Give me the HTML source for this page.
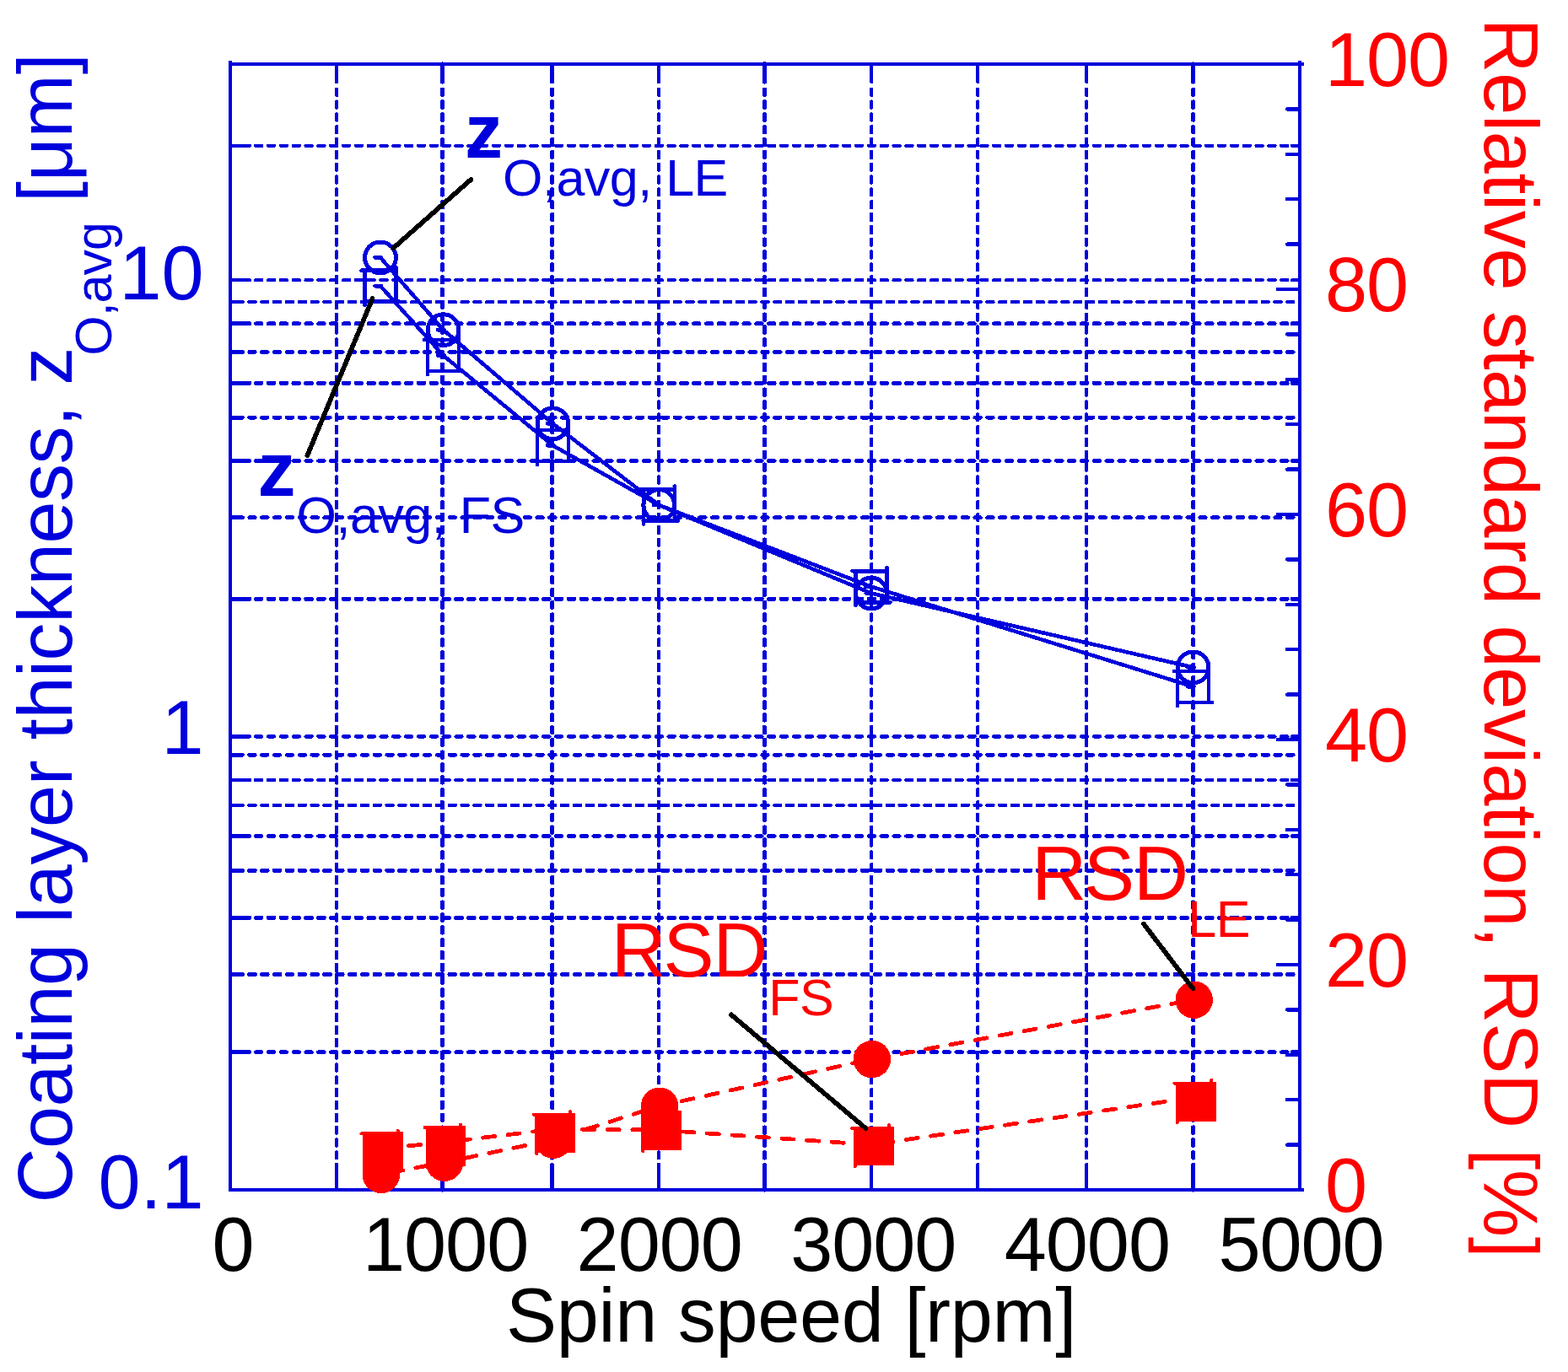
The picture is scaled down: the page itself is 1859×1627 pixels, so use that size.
<!DOCTYPE html>
<html lang="en">
<head>
<meta charset="utf-8">
<title>Coating layer thickness and relative standard deviation vs spin speed</title>
<style>
html,body{margin:0;padding:0;background:#ffffff;}
body{width:1859px;height:1627px;overflow:hidden;}
svg{display:block;}
text{font-family:'Liberation Sans', sans-serif;}
</style>
</head>
<body>
<svg width="1859" height="1627" viewBox="0 0 1859 1627" shape-rendering="crispEdges">
<rect x="0" y="0" width="1859" height="1627" fill="#ffffff"/>
<g id="grid">
<line x1="399.10" y1="105.65" x2="399.10" y2="1409.00" stroke="#0000dc" stroke-width="4.3" stroke-linecap="round" stroke-dasharray="7.20 7.63"/>
<line x1="524.50" y1="106.10" x2="524.50" y2="1409.00" stroke="#0000dc" stroke-width="5.2" stroke-linecap="round" stroke-dasharray="6.30 8.53"/>
<line x1="654.60" y1="106.00" x2="654.60" y2="1409.00" stroke="#0000dc" stroke-width="5.0" stroke-linecap="round" stroke-dasharray="6.50 8.33"/>
<line x1="781.10" y1="105.65" x2="781.10" y2="1409.00" stroke="#0000dc" stroke-width="4.3" stroke-linecap="round" stroke-dasharray="7.20 7.63"/>
<line x1="906.50" y1="106.15" x2="906.50" y2="1409.00" stroke="#0000dc" stroke-width="5.3" stroke-linecap="round" stroke-dasharray="6.20 8.63"/>
<line x1="1033.10" y1="105.55" x2="1033.10" y2="1409.00" stroke="#0000dc" stroke-width="4.1" stroke-linecap="round" stroke-dasharray="7.40 7.43"/>
<line x1="1159.10" y1="105.50" x2="1159.10" y2="1409.00" stroke="#0000dc" stroke-width="4.0" stroke-linecap="round" stroke-dasharray="7.50 7.33"/>
<line x1="1288.10" y1="105.55" x2="1288.10" y2="1409.00" stroke="#0000dc" stroke-width="4.1" stroke-linecap="round" stroke-dasharray="7.40 7.43"/>
<line x1="1414.70" y1="106.10" x2="1414.70" y2="1409.00" stroke="#0000dc" stroke-width="5.2" stroke-linecap="round" stroke-dasharray="6.30 8.53"/>
<line x1="303.10" y1="172.80" x2="1539.00" y2="172.80" stroke="#0000dc" stroke-width="4.2" stroke-linecap="round" stroke-dasharray="7.30 7.53"/>
<line x1="303.00" y1="332.10" x2="1539.00" y2="332.10" stroke="#0000dc" stroke-width="4.0" stroke-linecap="round" stroke-dasharray="7.50 7.33"/>
<line x1="280.70" y1="358.10" x2="1539.00" y2="358.10" stroke="#0000dc" stroke-width="4.6" stroke-linecap="round" stroke-dasharray="6.90 7.93"/>
<line x1="273.00" y1="358.10" x2="283.00" y2="358.10" stroke="#0000dc" stroke-width="4.6" stroke-linecap="butt"/>
<line x1="303.40" y1="383.70" x2="1539.00" y2="383.70" stroke="#0000dc" stroke-width="4.8" stroke-linecap="round" stroke-dasharray="6.70 8.13"/>
<line x1="280.80" y1="417.50" x2="1539.00" y2="417.50" stroke="#0000dc" stroke-width="4.8" stroke-linecap="round" stroke-dasharray="6.70 8.13"/>
<line x1="273.00" y1="417.50" x2="283.00" y2="417.50" stroke="#0000dc" stroke-width="4.8" stroke-linecap="butt"/>
<line x1="303.50" y1="454.40" x2="1539.00" y2="454.40" stroke="#0000dc" stroke-width="5.0" stroke-linecap="round" stroke-dasharray="6.50 8.33"/>
<line x1="280.70" y1="495.20" x2="1539.00" y2="495.20" stroke="#0000dc" stroke-width="4.6" stroke-linecap="round" stroke-dasharray="6.90 7.93"/>
<line x1="273.00" y1="495.20" x2="283.00" y2="495.20" stroke="#0000dc" stroke-width="4.6" stroke-linecap="butt"/>
<line x1="303.30" y1="546.50" x2="1539.00" y2="546.50" stroke="#0000dc" stroke-width="4.6" stroke-linecap="round" stroke-dasharray="6.90 7.93"/>
<line x1="280.70" y1="613.60" x2="1539.00" y2="613.60" stroke="#0000dc" stroke-width="4.6" stroke-linecap="round" stroke-dasharray="6.90 7.93"/>
<line x1="273.00" y1="613.60" x2="283.00" y2="613.60" stroke="#0000dc" stroke-width="4.6" stroke-linecap="butt"/>
<line x1="303.50" y1="710.30" x2="1539.00" y2="710.30" stroke="#0000dc" stroke-width="5.0" stroke-linecap="round" stroke-dasharray="6.50 8.33"/>
<line x1="303.20" y1="873.40" x2="1539.00" y2="873.40" stroke="#0000dc" stroke-width="4.4" stroke-linecap="round" stroke-dasharray="7.10 7.73"/>
<line x1="280.60" y1="895.30" x2="1539.00" y2="895.30" stroke="#0000dc" stroke-width="4.4" stroke-linecap="round" stroke-dasharray="7.10 7.73"/>
<line x1="273.00" y1="895.30" x2="283.00" y2="895.30" stroke="#0000dc" stroke-width="4.4" stroke-linecap="butt"/>
<line x1="303.30" y1="925.00" x2="1539.00" y2="925.00" stroke="#0000dc" stroke-width="4.6" stroke-linecap="round" stroke-dasharray="6.90 7.93"/>
<line x1="280.60" y1="954.90" x2="1539.00" y2="954.90" stroke="#0000dc" stroke-width="4.4" stroke-linecap="round" stroke-dasharray="7.10 7.73"/>
<line x1="273.00" y1="954.90" x2="283.00" y2="954.90" stroke="#0000dc" stroke-width="4.4" stroke-linecap="butt"/>
<line x1="303.30" y1="991.50" x2="1539.00" y2="991.50" stroke="#0000dc" stroke-width="4.6" stroke-linecap="round" stroke-dasharray="6.90 7.93"/>
<line x1="280.90" y1="1032.30" x2="1539.00" y2="1032.30" stroke="#0000dc" stroke-width="5.0" stroke-linecap="round" stroke-dasharray="6.50 8.33"/>
<line x1="273.00" y1="1032.30" x2="283.00" y2="1032.30" stroke="#0000dc" stroke-width="5.0" stroke-linecap="butt"/>
<line x1="303.50" y1="1088.40" x2="1539.00" y2="1088.40" stroke="#0000dc" stroke-width="5.0" stroke-linecap="round" stroke-dasharray="6.50 8.33"/>
<line x1="280.90" y1="1155.50" x2="1539.00" y2="1155.50" stroke="#0000dc" stroke-width="5.0" stroke-linecap="round" stroke-dasharray="6.50 8.33"/>
<line x1="273.00" y1="1155.50" x2="283.00" y2="1155.50" stroke="#0000dc" stroke-width="5.0" stroke-linecap="butt"/>
<line x1="303.30" y1="1247.60" x2="1539.00" y2="1247.60" stroke="#0000dc" stroke-width="4.6" stroke-linecap="round" stroke-dasharray="6.90 7.93"/>
</g>
<g id="ticks">
<line x1="399.10" y1="76.00" x2="399.10" y2="97.00" stroke="#0000dc" stroke-width="4.3" stroke-linecap="round"/>
<line x1="399.10" y1="1411.00" x2="399.10" y2="1390.00" stroke="#0000dc" stroke-width="4.3" stroke-linecap="round"/>
<line x1="524.50" y1="76.00" x2="524.50" y2="97.00" stroke="#0000dc" stroke-width="5.2" stroke-linecap="round"/>
<line x1="524.50" y1="1411.00" x2="524.50" y2="1390.00" stroke="#0000dc" stroke-width="5.2" stroke-linecap="round"/>
<line x1="654.60" y1="76.00" x2="654.60" y2="97.00" stroke="#0000dc" stroke-width="5.0" stroke-linecap="round"/>
<line x1="654.60" y1="1411.00" x2="654.60" y2="1390.00" stroke="#0000dc" stroke-width="5.0" stroke-linecap="round"/>
<line x1="781.10" y1="76.00" x2="781.10" y2="97.00" stroke="#0000dc" stroke-width="4.3" stroke-linecap="round"/>
<line x1="781.10" y1="1411.00" x2="781.10" y2="1390.00" stroke="#0000dc" stroke-width="4.3" stroke-linecap="round"/>
<line x1="906.50" y1="76.00" x2="906.50" y2="97.00" stroke="#0000dc" stroke-width="5.3" stroke-linecap="round"/>
<line x1="906.50" y1="1411.00" x2="906.50" y2="1390.00" stroke="#0000dc" stroke-width="5.3" stroke-linecap="round"/>
<line x1="1033.10" y1="76.00" x2="1033.10" y2="97.00" stroke="#0000dc" stroke-width="4.1" stroke-linecap="round"/>
<line x1="1033.10" y1="1411.00" x2="1033.10" y2="1390.00" stroke="#0000dc" stroke-width="4.1" stroke-linecap="round"/>
<line x1="1159.10" y1="76.00" x2="1159.10" y2="97.00" stroke="#0000dc" stroke-width="4.0" stroke-linecap="round"/>
<line x1="1159.10" y1="1411.00" x2="1159.10" y2="1390.00" stroke="#0000dc" stroke-width="4.0" stroke-linecap="round"/>
<line x1="1288.10" y1="76.00" x2="1288.10" y2="97.00" stroke="#0000dc" stroke-width="4.1" stroke-linecap="round"/>
<line x1="1288.10" y1="1411.00" x2="1288.10" y2="1390.00" stroke="#0000dc" stroke-width="4.1" stroke-linecap="round"/>
<line x1="1414.70" y1="76.00" x2="1414.70" y2="97.00" stroke="#0000dc" stroke-width="5.2" stroke-linecap="round"/>
<line x1="1414.70" y1="1411.00" x2="1414.70" y2="1390.00" stroke="#0000dc" stroke-width="5.2" stroke-linecap="round"/>
<line x1="273.00" y1="1247.60" x2="296.00" y2="1247.60" stroke="#0000dc" stroke-width="4.6" stroke-linecap="round"/>
<line x1="1541.00" y1="1247.60" x2="1532.00" y2="1247.60" stroke="#0000dc" stroke-width="4.6" stroke-linecap="round"/>
<line x1="273.00" y1="1088.40" x2="296.00" y2="1088.40" stroke="#0000dc" stroke-width="5.0" stroke-linecap="round"/>
<line x1="1541.00" y1="1088.40" x2="1532.00" y2="1088.40" stroke="#0000dc" stroke-width="5.0" stroke-linecap="round"/>
<line x1="273.00" y1="991.50" x2="296.00" y2="991.50" stroke="#0000dc" stroke-width="4.6" stroke-linecap="round"/>
<line x1="1541.00" y1="991.50" x2="1532.00" y2="991.50" stroke="#0000dc" stroke-width="4.6" stroke-linecap="round"/>
<line x1="273.00" y1="925.00" x2="296.00" y2="925.00" stroke="#0000dc" stroke-width="4.6" stroke-linecap="round"/>
<line x1="1541.00" y1="925.00" x2="1532.00" y2="925.00" stroke="#0000dc" stroke-width="4.6" stroke-linecap="round"/>
<line x1="273.00" y1="873.40" x2="296.00" y2="873.40" stroke="#0000dc" stroke-width="4.4" stroke-linecap="round"/>
<line x1="1541.00" y1="873.40" x2="1532.00" y2="873.40" stroke="#0000dc" stroke-width="4.4" stroke-linecap="round"/>
<line x1="273.00" y1="710.30" x2="296.00" y2="710.30" stroke="#0000dc" stroke-width="5.0" stroke-linecap="round"/>
<line x1="1541.00" y1="710.30" x2="1532.00" y2="710.30" stroke="#0000dc" stroke-width="5.0" stroke-linecap="round"/>
<line x1="273.00" y1="546.50" x2="296.00" y2="546.50" stroke="#0000dc" stroke-width="4.6" stroke-linecap="round"/>
<line x1="1541.00" y1="546.50" x2="1532.00" y2="546.50" stroke="#0000dc" stroke-width="4.6" stroke-linecap="round"/>
<line x1="273.00" y1="454.40" x2="296.00" y2="454.40" stroke="#0000dc" stroke-width="5.0" stroke-linecap="round"/>
<line x1="1541.00" y1="454.40" x2="1532.00" y2="454.40" stroke="#0000dc" stroke-width="5.0" stroke-linecap="round"/>
<line x1="273.00" y1="383.70" x2="296.00" y2="383.70" stroke="#0000dc" stroke-width="4.8" stroke-linecap="round"/>
<line x1="1541.00" y1="383.70" x2="1532.00" y2="383.70" stroke="#0000dc" stroke-width="4.8" stroke-linecap="round"/>
<line x1="273.00" y1="332.10" x2="296.00" y2="332.10" stroke="#0000dc" stroke-width="4.0" stroke-linecap="round"/>
<line x1="1541.00" y1="332.10" x2="1532.00" y2="332.10" stroke="#0000dc" stroke-width="4.0" stroke-linecap="round"/>
<line x1="273.00" y1="172.80" x2="296.00" y2="172.80" stroke="#0000dc" stroke-width="4.2" stroke-linecap="round"/>
<line x1="1541.00" y1="172.80" x2="1532.00" y2="172.80" stroke="#0000dc" stroke-width="4.2" stroke-linecap="round"/>
<line x1="1541.00" y1="1357.60" x2="1526.00" y2="1357.60" stroke="#0000dc" stroke-width="4.5" stroke-linecap="round"/>
<line x1="1541.00" y1="1304.20" x2="1526.00" y2="1304.20" stroke="#0000dc" stroke-width="4.5" stroke-linecap="round"/>
<line x1="1541.00" y1="1250.80" x2="1526.00" y2="1250.80" stroke="#0000dc" stroke-width="4.5" stroke-linecap="round"/>
<line x1="1541.00" y1="1197.40" x2="1526.00" y2="1197.40" stroke="#0000dc" stroke-width="4.5" stroke-linecap="round"/>
<line x1="1541.00" y1="1144.00" x2="1515.00" y2="1144.00" stroke="#0000dc" stroke-width="4.5" stroke-linecap="round"/>
<line x1="1541.00" y1="1090.60" x2="1526.00" y2="1090.60" stroke="#0000dc" stroke-width="4.5" stroke-linecap="round"/>
<line x1="1541.00" y1="1037.20" x2="1526.00" y2="1037.20" stroke="#0000dc" stroke-width="4.5" stroke-linecap="round"/>
<line x1="1541.00" y1="983.80" x2="1526.00" y2="983.80" stroke="#0000dc" stroke-width="4.5" stroke-linecap="round"/>
<line x1="1541.00" y1="930.40" x2="1526.00" y2="930.40" stroke="#0000dc" stroke-width="4.5" stroke-linecap="round"/>
<line x1="1541.00" y1="877.00" x2="1515.00" y2="877.00" stroke="#0000dc" stroke-width="4.5" stroke-linecap="round"/>
<line x1="1541.00" y1="823.60" x2="1526.00" y2="823.60" stroke="#0000dc" stroke-width="4.5" stroke-linecap="round"/>
<line x1="1541.00" y1="770.20" x2="1526.00" y2="770.20" stroke="#0000dc" stroke-width="4.5" stroke-linecap="round"/>
<line x1="1541.00" y1="716.80" x2="1526.00" y2="716.80" stroke="#0000dc" stroke-width="4.5" stroke-linecap="round"/>
<line x1="1541.00" y1="663.40" x2="1526.00" y2="663.40" stroke="#0000dc" stroke-width="4.5" stroke-linecap="round"/>
<line x1="1541.00" y1="610.00" x2="1515.00" y2="610.00" stroke="#0000dc" stroke-width="4.5" stroke-linecap="round"/>
<line x1="1541.00" y1="556.60" x2="1526.00" y2="556.60" stroke="#0000dc" stroke-width="4.5" stroke-linecap="round"/>
<line x1="1541.00" y1="503.20" x2="1526.00" y2="503.20" stroke="#0000dc" stroke-width="4.5" stroke-linecap="round"/>
<line x1="1541.00" y1="449.80" x2="1526.00" y2="449.80" stroke="#0000dc" stroke-width="4.5" stroke-linecap="round"/>
<line x1="1541.00" y1="396.40" x2="1526.00" y2="396.40" stroke="#0000dc" stroke-width="4.5" stroke-linecap="round"/>
<line x1="1541.00" y1="343.00" x2="1515.00" y2="343.00" stroke="#0000dc" stroke-width="4.5" stroke-linecap="round"/>
<line x1="1541.00" y1="289.60" x2="1526.00" y2="289.60" stroke="#0000dc" stroke-width="4.5" stroke-linecap="round"/>
<line x1="1541.00" y1="236.20" x2="1526.00" y2="236.20" stroke="#0000dc" stroke-width="4.5" stroke-linecap="round"/>
<line x1="1541.00" y1="182.80" x2="1526.00" y2="182.80" stroke="#0000dc" stroke-width="4.5" stroke-linecap="round"/>
<line x1="1541.00" y1="129.40" x2="1526.00" y2="129.40" stroke="#0000dc" stroke-width="4.5" stroke-linecap="round"/>
</g>
<g id="box">
<line x1="273.00" y1="72.00" x2="273.00" y2="1413.00" stroke="#0000dc" stroke-width="4.0" stroke-linecap="butt"/>
<line x1="1541.00" y1="72.00" x2="1541.00" y2="1413.00" stroke="#0000dc" stroke-width="4.0" stroke-linecap="butt"/>
<line x1="271.00" y1="76.00" x2="1546.00" y2="76.00" stroke="#0000dc" stroke-width="4.0" stroke-linecap="butt"/>
<line x1="271.00" y1="1411.00" x2="1546.00" y2="1411.00" stroke="#0000dc" stroke-width="4.0" stroke-linecap="butt"/>
</g>
<g id="blue" fill="none" stroke="#0000dc" stroke-width="4.6" stroke-linejoin="round" stroke-linecap="round">
<polyline points="451.0,305.4 525.6,391.2 655.4,502.3 781.3,599.0 1033.0,703.5 1414.6,791.4"/>
<polyline points="451.0,339.2 525.6,421.5 655.4,528.3 781.3,599.0 1033.0,695.7 1414.6,814.3"/>
<path d="M444.5,305.4L452.0,305.4"/>
<circle cx="451.0" cy="305.4" r="18.4" stroke-width="5"/>
<path d="M519.1,391.2L526.6,391.2"/>
<circle cx="525.6" cy="391.2" r="18.4" stroke-width="5"/>
<path d="M648.9,502.3L656.4,502.3"/>
<circle cx="655.4" cy="502.3" r="18.4" stroke-width="5"/>
<path d="M774.8,599.0L782.3,599.0"/>
<circle cx="781.3" cy="599.0" r="18.4" stroke-width="5"/>
<path d="M1026.5,703.5L1034.0,703.5"/>
<circle cx="1033.0" cy="703.5" r="18.4" stroke-width="5"/>
<path d="M1408.1,791.4L1415.6,791.4"/>
<circle cx="1414.6" cy="791.4" r="18.4" stroke-width="5"/>
<path d="M444.5,339.2L452.0,339.2"/>
<path d="M428.5,320.7L469.5,320.7M469.5,316.7L469.5,357.7M432.5,357.7L473.5,357.7M432.5,320.7L432.5,361.7"/>
<path d="M519.1,421.5L526.6,421.5"/>
<path d="M503.1,403.0L544.1,403.0M544.1,399.0L544.1,440.0M507.1,440.0L548.1,440.0M507.1,403.0L507.1,444.0"/>
<path d="M648.9,528.3L656.4,528.3"/>
<path d="M632.9,509.8L673.9,509.8M673.9,505.8L673.9,546.8M636.9,546.8L677.9,546.8M636.9,509.8L636.9,550.8"/>
<path d="M774.8,599.0L782.3,599.0"/>
<path d="M758.8,580.5L799.8,580.5M799.8,576.5L799.8,617.5M762.8,617.5L803.8,617.5M762.8,580.5L762.8,621.5"/>
<path d="M1026.5,695.7L1034.0,695.7"/>
<path d="M1010.5,677.2L1051.5,677.2M1051.5,673.2L1051.5,714.2M1014.5,714.2L1055.5,714.2M1014.5,677.2L1014.5,718.2"/>
<path d="M1408.1,814.3L1415.6,814.3"/>
<path d="M1392.1,795.8L1433.1,795.8M1433.1,791.8L1433.1,832.8M1396.1,832.8L1437.1,832.8M1396.1,795.8L1396.1,836.8"/>
</g>
<g id="red">
<polyline fill="none" stroke="#ff0000" stroke-width="4.8" stroke-dasharray="14.2 15.4" stroke-dashoffset="-13" stroke-linecap="round" points="451.0,1392.9 525.6,1378.7 655.4,1351.7 781.3,1311.7 1033.0,1256.1 1414.6,1185.7"/>
<polyline fill="none" stroke="#ff0000" stroke-width="4.8" stroke-dasharray="14.2 15.4" stroke-dashoffset="-4" stroke-linecap="round" points="451.0,1362.1 525.6,1354.8 655.4,1339.2 781.3,1340.0 1033.0,1357.5 1414.6,1301.5"/>
<circle cx="451.9" cy="1392.9" r="22.2" fill="#ff0000"/>
<circle cx="526.9" cy="1378.7" r="22.2" fill="#ff0000"/>
<circle cx="656.2" cy="1351.7" r="22.2" fill="#ff0000"/>
<circle cx="782.1" cy="1311.7" r="22.2" fill="#ff0000"/>
<circle cx="1033.9" cy="1256.1" r="22.2" fill="#ff0000"/>
<circle cx="1415.7" cy="1185.7" r="22.2" fill="#ff0000"/>
<rect x="429.9" y="1342.3" width="48.0" height="47.6" fill="#ff0000"/>
<path d="M428.4,1344.3L471.9,1344.3M471.9,1340.8L471.9,1387.9M431.9,1387.9L475.4,1387.9M431.9,1344.3L431.9,1391.4" fill="none" stroke="#ff0000" stroke-width="4" stroke-linecap="round"/>
<rect x="504.9" y="1335.0" width="47.1" height="47.6" fill="#ff0000"/>
<path d="M503.4,1337.0L546.0,1337.0M546.0,1333.5L546.0,1380.6M506.9,1380.6L549.5,1380.6M506.9,1337.0L506.9,1384.1" fill="none" stroke="#ff0000" stroke-width="4" stroke-linecap="round"/>
<rect x="634.1" y="1319.7" width="47.9" height="47.0" fill="#ff0000"/>
<path d="M632.6,1321.7L676.0,1321.7M676.0,1318.2L676.0,1364.7M636.1,1364.7L679.5,1364.7M636.1,1321.7L636.1,1368.2" fill="none" stroke="#ff0000" stroke-width="4" stroke-linecap="round"/>
<rect x="760.1" y="1316.6" width="48.1" height="47.0" fill="#ff0000"/>
<path d="M758.6,1318.6L802.2,1318.6M802.2,1315.1L802.2,1361.6M762.1,1361.6L805.7,1361.6M762.1,1318.6L762.1,1365.1" fill="none" stroke="#ff0000" stroke-width="4" stroke-linecap="round"/>
<rect x="1011.7" y="1335.8" width="48.2" height="46.2" fill="#ff0000"/>
<path d="M1010.2,1337.8L1053.9,1337.8M1053.9,1334.3L1053.9,1380.0M1013.7,1380.0L1057.4,1380.0M1013.7,1337.8L1013.7,1383.5" fill="none" stroke="#ff0000" stroke-width="4" stroke-linecap="round"/>
<rect x="1393.7" y="1282.5" width="48.4" height="47.4" fill="#ff0000"/>
<path d="M1392.2,1284.5L1436.1,1284.5M1436.1,1281.0L1436.1,1327.9M1395.7,1327.9L1439.6,1327.9M1395.7,1284.5L1395.7,1331.4" fill="none" stroke="#ff0000" stroke-width="4" stroke-linecap="round"/>
</g>
<g id="leaders">
<line x1="466.20" y1="294.30" x2="558.20" y2="213.00" stroke="#000000" stroke-width="5.7" stroke-linecap="round"/>
<line x1="441.60" y1="354.00" x2="364.30" y2="540.30" stroke="#000000" stroke-width="5.7" stroke-linecap="round"/>
<line x1="866.90" y1="1203.30" x2="1026.30" y2="1337.90" stroke="#000000" stroke-width="5.7" stroke-linecap="round"/>
<line x1="1356.00" y1="1095.70" x2="1414.50" y2="1172.50" stroke="#000000" stroke-width="5.7" stroke-linecap="round"/>
</g>
<g id="labels" font-family="'Liberation Sans', sans-serif">
<text x="251.47" y="1506.60" font-size="90" fill="#000000" text-anchor="start" font-weight="normal" letter-spacing="-1">0</text>
<text x="429.98" y="1506.60" font-size="90" fill="#000000" text-anchor="start" font-weight="normal" letter-spacing="-1">1000</text>
<text x="683.58" y="1506.60" font-size="90" fill="#000000" text-anchor="start" font-weight="normal" letter-spacing="-1">2000</text>
<text x="937.18" y="1506.60" font-size="90" fill="#000000" text-anchor="start" font-weight="normal" letter-spacing="-1">3000</text>
<text x="1190.78" y="1506.60" font-size="90" fill="#000000" text-anchor="start" font-weight="normal" letter-spacing="-1">4000</text>
<text x="1444.38" y="1506.60" font-size="90" fill="#000000" text-anchor="start" font-weight="normal" letter-spacing="-1">5000</text>
<text x="600.00" y="1591.40" font-size="90" fill="#000000" text-anchor="start" font-weight="normal" letter-spacing="-0.27">Spin speed [rpm]</text>
<text x="241.50" y="1433.00" font-size="90" fill="#0000dc" text-anchor="end" font-weight="normal">0.1</text>
<text x="241.50" y="894.07" font-size="90" fill="#0000dc" text-anchor="end" font-weight="normal">1</text>
<text x="241.50" y="355.14" font-size="90" fill="#0000dc" text-anchor="end" font-weight="normal">10</text>
<text x="1571.00" y="1437.30" font-size="90" fill="#ff0000" text-anchor="start" font-weight="normal" letter-spacing="-1">0</text>
<text x="1571.00" y="1170.30" font-size="90" fill="#ff0000" text-anchor="start" font-weight="normal" letter-spacing="-1">20</text>
<text x="1571.00" y="903.30" font-size="90" fill="#ff0000" text-anchor="start" font-weight="normal" letter-spacing="-1">40</text>
<text x="1571.00" y="636.30" font-size="90" fill="#ff0000" text-anchor="start" font-weight="normal" letter-spacing="-1">60</text>
<text x="1571.00" y="369.30" font-size="90" fill="#ff0000" text-anchor="start" font-weight="normal" letter-spacing="-1">80</text>
<text x="1571.00" y="102.30" font-size="90" fill="#ff0000" text-anchor="start" font-weight="normal" letter-spacing="-1">100</text>
<text x="84.80" y="1426.60" font-size="90" fill="#0000dc" text-anchor="start" font-weight="normal" transform="rotate(-90 84.80 1426.60)" letter-spacing="-0.42">Coating layer thickness, z</text>
<text x="131.80" y="421.80" font-size="61" fill="#0000dc" text-anchor="start" font-weight="normal" transform="rotate(-90 131.80 421.80)" letter-spacing="-1">O,avg</text>
<text x="84.80" y="240.00" font-size="90" fill="#0000dc" text-anchor="start" font-weight="normal" transform="rotate(-90 84.80 240.00)"> [μm]</text>
<text x="1759.70" y="21.50" font-size="90" fill="#ff0000" text-anchor="start" font-weight="normal" transform="rotate(90 1759.70 21.50)" letter-spacing="-0.3">Relative standard deviation, RSD [%]</text>
<text x="551.00" y="187.00" font-size="90" fill="#0000dc" text-anchor="start" font-weight="bold">z</text>
<text x="596.00" y="231.70" font-size="61" fill="#0000dc" text-anchor="start" font-weight="normal" letter-spacing="-0.5">O,avg, LE</text>
<text x="305.50" y="588.00" font-size="90" fill="#0000dc" text-anchor="start" font-weight="bold">z</text>
<text x="351.50" y="632.30" font-size="61" fill="#0000dc" text-anchor="start" font-weight="normal" letter-spacing="-0.5">O,avg, FS</text>
<text x="724.70" y="1158.30" font-size="90" fill="#ff0000" text-anchor="start" font-weight="normal" dx="0 -3.3 -1.0">RSD</text>
<text x="911.30" y="1203.50" font-size="61" fill="#ff0000" text-anchor="start" font-weight="normal" letter-spacing="-0.5">FS</text>
<text x="1223.20" y="1066.80" font-size="90" fill="#ff0000" text-anchor="start" font-weight="normal" dx="0 -3.3 -1.0">RSD</text>
<text x="1408.30" y="1110.50" font-size="61" fill="#ff0000" text-anchor="start" font-weight="normal" letter-spacing="-0.5">LE</text>
</g>
</svg>
</body>
</html>
